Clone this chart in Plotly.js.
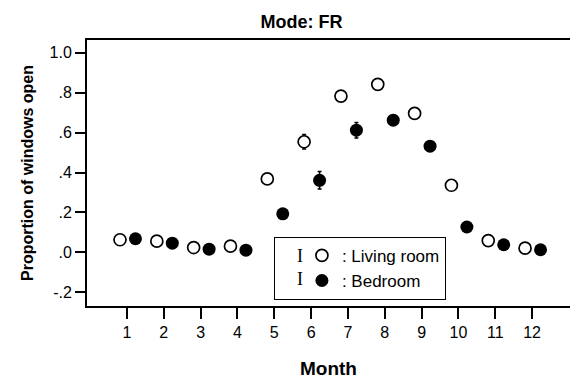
<!DOCTYPE html>
<html>
<head>
<meta charset="utf-8">
<script src="https://cdn.plot.ly/plotly-3.0.1.min.js"></script>
<style>html,body{margin:0;padding:0;background:#fff;}#chart{width:571px;height:379px;}</style>
</head>
<body>
<div id="chart"></div>
<script>
var months = [1, 2, 3, 4, 5, 6, 7, 8, 9, 10, 11, 12];
var livingRoom = [0.063, 0.056, 0.024, 0.031, 0.368, 0.554, 0.783, 0.842, 0.696, 0.336, 0.059, 0.021];
var livingErr  = [0.010, 0.010, 0.008, 0.010, 0.015, 0.036, 0.020, 0.018, 0.020, 0.015, 0.010, 0.008];
var bedroom    = [0.068, 0.046, 0.016, 0.011, 0.193, 0.361, 0.612, 0.662, 0.532, 0.127, 0.038, 0.013];
var bedroomErr = [0.010, 0.010, 0.008, 0.008, 0.020, 0.044, 0.039, 0.018, 0.020, 0.015, 0.010, 0.008];
var yTickVals = [-0.2, 0, 0.2, 0.4, 0.6, 0.8, 1.0];
var yTickText = ['-.2', '.0', '.2', '.4', '.6', '.8', '1.0'];
var seriesNames = [': Living room', ': Bedroom'];

var FONT = 'Arial, "Liberation Sans", sans-serif';
var offLiving = -0.19, offBed = 0.23;

var traces = [
  {
    x: months.map(function (m) { return m + offLiving; }),
    y: livingRoom,
    type: 'scatter', mode: 'markers', name: seriesNames[0],
    marker: { symbol: 'circle', size: 12, color: '#fff', line: { width: 1.7, color: '#000' } },
    error_y: { type: 'data', array: livingErr, visible: true, color: '#000', thickness: 1.5, width: 2 }
  },
  {
    x: months.map(function (m) { return m + offBed; }),
    y: bedroom,
    type: 'scatter', mode: 'markers', name: seriesNames[1],
    marker: { symbol: 'circle', size: 13, color: '#000' },
    error_y: { type: 'data', array: bedroomErr, visible: true, color: '#000', thickness: 1.5, width: 2 }
  }
];

var layout = {
  width: 571, height: 379,
  margin: { l: 87, r: 1, t: 40, b: 73 },
  paper_bgcolor: '#fff', plot_bgcolor: '#fff',
  font: { family: FONT, size: 16, color: '#000' },
  title: { text: 'Mode: FR', font: { family: FONT, size: 18, color: '#000', weight: 'bold' }, x: 0.528, xanchor: 'center', y: 0.942, yanchor: 'middle' },
  xaxis: {
    range: [-0.086, 13.03], tickvals: months, ticktext: months.map(String),
    showgrid: false, zeroline: false, showline: true, linecolor: '#000', linewidth: 2, mirror: true,
    ticks: 'outside', ticklen: 11, tickwidth: 2, tickcolor: '#000',
    tickfont: { family: FONT, size: 16, color: '#000' },
    title: { text: 'Month', font: { family: FONT, size: 19, color: '#000', weight: 'bold' }, standoff: 22 }
  },
  yaxis: {
    range: [-0.269, 1.064], tickvals: yTickVals, ticktext: yTickText,
    showgrid: false, zeroline: false, showline: true, linecolor: '#000', linewidth: 2,
    ticks: 'outside', ticklen: 10, tickwidth: 2, tickcolor: '#000',
    tickfont: { family: FONT, size: 16, color: '#000' },
    title: { text: 'Proportion of windows open', font: { family: FONT, size: 16, color: '#000', weight: 'bold' }, standoff: 12 }
  },
  showlegend: true,
  legend: {
    x: 0.387, xanchor: 'left', y: 0.26, yanchor: 'top',
    bgcolor: '#fff', bordercolor: '#000', borderwidth: 1,
    font: { family: FONT, size: 17, color: '#000' },
    indentation: 27, tracegroupgap: 0
  },
  annotations: [
    { xref: 'paper', yref: 'paper', x: 0.441, y: 0.143, text: 'I', showarrow: false, font: { family: '"Liberation Serif", serif', size: 18, color: '#000' } },
    { xref: 'paper', yref: 'paper', x: 0.441, y: 0.058, text: 'I', showarrow: false, font: { family: '"Liberation Serif", serif', size: 18, color: '#000' } }
  ]
};

Plotly.newPlot('chart', traces, layout, { displayModeBar: false, staticPlot: true });
</script>
</body>
</html>
